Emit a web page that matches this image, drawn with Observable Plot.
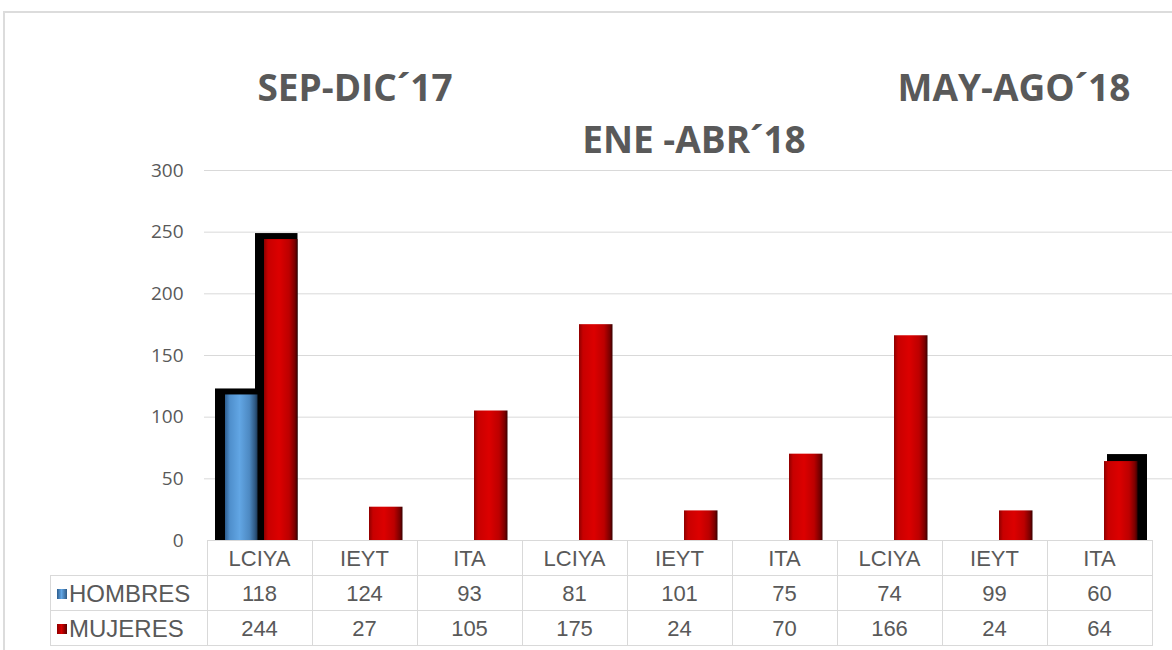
<!DOCTYPE html>
<html>
<head>
<meta charset="utf-8">
<script src="https://cdn.jsdelivr.net/npm/d3@7"></script>
<script src="https://cdn.jsdelivr.net/npm/@observablehq/plot@0.6"></script>
<style>
  html, body { margin: 0; padding: 0; background: #fff; }
  #wrap { position: relative; width: 1172px; height: 650px; overflow: hidden; background: #fff; }
  .frame { position: absolute; left: 3px; top: 11px; width: 1200px; height: 700px;
           border-left: 2px solid #dcdcdc; border-top: 2px solid #dcdcdc; }
  .title { position: absolute; font-family: "Open Sans", sans-serif; font-weight: 700;
           font-size: 37px; line-height: 1; color: #595959; white-space: nowrap;
           transform: translateX(-50%); }
  .ln { position: absolute; background: #d9d9d9; }
  .cell { position: absolute; font-family: "Liberation Sans", Arial, sans-serif; font-size: 22px;
          color: #595959; text-align: center; white-space: nowrap; }
  .rowlab { position: absolute; font-family: "Liberation Sans", Arial, sans-serif; font-size: 24px;
            color: #595959; white-space: nowrap; display: flex; align-items: center; }
  .key { width: 10px; height: 10px; margin-right: 2px; }
  #chart { position: absolute; left: 0; top: 0; }
</style>
</head>
<body>
<div id="wrap">
  <div class="frame"></div>
  <div id="chart"></div>
</div>
<script>
// ---- data ----
const categories = ["LCIYA", "IEYT", "ITA", "LCIYA", "IEYT", "ITA", "LCIYA", "IEYT", "ITA"];
const hombres = [118, 124, 93, 81, 101, 75, 74, 99, 60];
const mujeres = [244, 27, 105, 175, 24, 70, 166, 24, 64];
const seriesNames = ["HOMBRES", "MUJERES"];
const periods = ["SEP-DIC´17", "ENE -ABR´18", "MAY-AGO´18"];
const yTicks = [0, 50, 100, 150, 200, 250, 300];
// In the original picture only the first HOMBRES bar is visible
const visibleHombres = [0];

const idx = d3.range(categories.length);
const menData = idx.filter(i => visibleHombres.includes(i)).map(i => ({i, v: hombres[i]}));
const womenData = idx.map(i => ({i, v: mujeres[i]}));
const first = idx[0], last = idx[idx.length - 1];

const plot = Plot.plot({
  width: 1172,
  height: 545,
  marginTop: 170,
  marginBottom: 5,
  marginLeft: 204,
  marginRight: 0,
  style: {fontFamily: "'Open Sans', sans-serif", fontSize: "19px", color: "#595959", background: "transparent", overflow: "visible"},
  x: {type: "band", domain: idx, range: [204, 1154], padding: 0, axis: null, label: null},
  y: {domain: [0, 300], axis: null, label: null},
  marks: [
    Plot.ruleY(yTicks.filter(t => t > 0), {stroke: "#d9d9d9", strokeWidth: 1}),
    Plot.axisY({ticks: yTicks, tickSize: 0, tickPadding: 21, color: "#595959", label: null}),
    // 3D extrusion (black) for the outer bars
    Plot.barY(womenData.filter(d => d.i === first), {x: "i", y: "v", fill: "black", insetLeft: 48, insetRight: 14.5, insetTop: -6}),
    Plot.barY(menData.filter(d => d.i === first), {x: "i", y: "v", fill: "black", insetLeft: 8, insetRight: 54.5, insetTop: -6}),
    Plot.barY(womenData.filter(d => d.i === last), {x: "i", y: "v", fill: "black", insetLeft: 60, insetRight: 5, insetTop: -7}),
    // bars
    Plot.barY(menData, {x: "i", y: "v", fill: "url(#gBlue)", insetLeft: 18, insetRight: 54.5}),
    Plot.barY(womenData, {x: "i", y: "v", fill: "url(#gRed)", insetLeft: 57, insetRight: 14.5})
  ]
});

// gradients
const NS = "http://www.w3.org/2000/svg";
const defs = document.createElementNS(NS, "defs");
function grad(id, stops) {
  const g = document.createElementNS(NS, "linearGradient");
  g.setAttribute("id", id);
  g.setAttribute("x1", "0"); g.setAttribute("x2", "1"); g.setAttribute("y1", "0"); g.setAttribute("y2", "0");
  for (const [o, c] of stops) {
    const s = document.createElementNS(NS, "stop");
    s.setAttribute("offset", o); s.setAttribute("stop-color", c);
    g.appendChild(s);
  }
  defs.appendChild(g);
}
grad("gRed", [["0", "#8e0000"], ["0.12", "#c80000"], ["0.45", "#dc0000"], ["0.75", "#bc0000"], ["0.92", "#7a0000"], ["1", "#3a0000"]]);
grad("gBlue", [["0", "#2d5d8e"], ["0.15", "#4f8fcc"], ["0.45", "#62a6e4"], ["0.75", "#4d89c2"], ["0.92", "#2f5a85"], ["1", "#1d3a58"]]);
const svg = plot.tagName.toLowerCase() === "svg" ? plot : plot.querySelector("svg");
svg.insertBefore(defs, svg.firstChild);

const wrap = document.getElementById("wrap");
document.getElementById("chart").appendChild(plot);

// titles
const titlePos = [[355, 68], [694, 120], [1014, 68]];
periods.forEach((t, k) => {
  const d = document.createElement("div");
  d.className = "title";
  d.textContent = t;
  d.style.left = titlePos[k][0] + "px";
  d.style.top = titlePos[k][1] + "px";
  wrap.appendChild(d);
});

// data table, aligned to the plot's x scale
const xs = plot.scale("x");
const bw = xs.bandwidth;
const x0 = xs.apply(idx[0]);
const xEnd = xs.apply(last) + bw;
const top0 = 540, rowH = 35, labLeft = 50;
function line(x, y, w, h) {
  const d = document.createElement("div");
  d.className = "ln";
  Object.assign(d.style, {left: x + "px", top: y + "px", width: w + "px", height: h + "px"});
  wrap.appendChild(d);
}
line(x0, top0, xEnd - x0 + 1, 1);
for (let r = 1; r <= 3; r++) line(labLeft, top0 + r * rowH, xEnd - labLeft + 1, 1);
line(labLeft, top0 + rowH, 1, 2 * rowH);
idx.forEach(i => line(xs.apply(i), top0, 1, 3 * rowH));
line(xEnd, top0, 1, 3 * rowH + 1);

function cell(text, x, y, w) {
  const d = document.createElement("div");
  d.className = "cell";
  d.textContent = text;
  Object.assign(d.style, {left: x + "px", top: y + "px", width: w + "px", height: rowH + "px", lineHeight: rowH + "px"});
  wrap.appendChild(d);
}
const rows = [hombres, mujeres];
idx.forEach(i => {
  const x = xs.apply(i);
  cell(categories[i], x, top0 + 1, bw);
  rows.forEach((arr, r) => cell(String(arr[i]), x, top0 + (r + 1) * rowH + 1, bw));
});
const keyFill = [
  "linear-gradient(90deg,#2d5d8e,#62a6e4 45%,#2f5a85)",
  "linear-gradient(90deg,#8e0000,#d60000 45%,#5a0000)"
];
seriesNames.forEach((name, r) => {
  const d = document.createElement("div");
  d.className = "rowlab";
  Object.assign(d.style, {left: (labLeft + 7) + "px", top: (top0 + (r + 1) * rowH + 1) + "px", height: rowH + "px"});
  const k = document.createElement("div");
  k.className = "key";
  k.style.background = keyFill[r];
  d.appendChild(k);
  const t = document.createElement("span");
  t.textContent = name;
  d.appendChild(t);
  wrap.appendChild(d);
});
</script>
</body>
</html>
